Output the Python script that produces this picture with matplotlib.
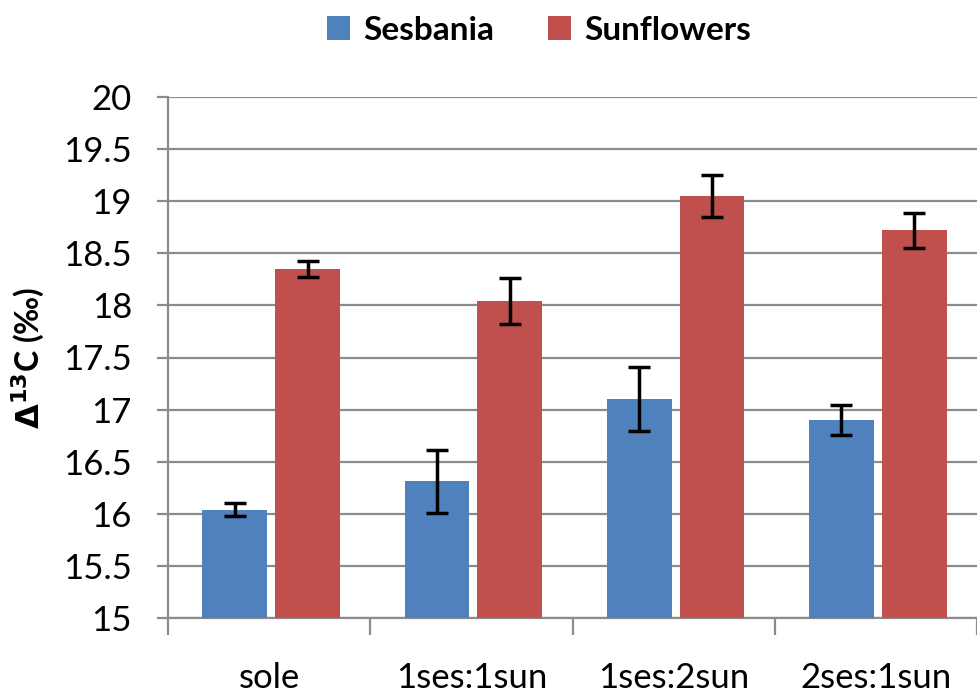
import numpy as np
import matplotlib.pyplot as plt

plt.rcParams['font.family'] = ['Lato', 'DejaVu Sans']

categories = ["sole", "1ses:1sun", "1ses:2sun", "2ses:1sun"]
sesbania = [16.04, 16.31, 17.10, 16.90]
sesbania_err = [0.06, 0.30, 0.31, 0.14]
sunflowers = [18.35, 18.04, 19.05, 18.72]
sunflowers_err = [0.08, 0.22, 0.20, 0.17]

blue = "#4F81BD"
red = "#C0504D"
grey = "#8C8C8C"

fig = plt.figure(figsize=(9.77, 6.95), dpi=100)
ax = fig.add_axes([168 / 977, 1 - 618 / 695, 809 / 977, 521 / 695])

x = np.arange(len(categories))
w = 0.32
err_kw = dict(ecolor="black", elinewidth=2.5, capsize=8, capthick=2.5)
b1 = ax.bar(x - 0.17, sesbania, w, color=blue, yerr=sesbania_err,
            error_kw=err_kw, label="Sesbania", zorder=3)
b2 = ax.bar(x + 0.19, sunflowers, w, color=red, yerr=sunflowers_err,
            error_kw=err_kw, label="Sunflowers", zorder=3)

ax.set_ylim(15, 20)
ax.set_yticks(np.arange(15, 20.01, 0.5))
ax.set_yticklabels(["15", "15.5", "16", "16.5", "17", "17.5", "18", "18.5", "19", "19.5", "20"])
ax.set_xlim(-0.5, 3.466)
ax.yaxis.grid(True, color=grey, linewidth=1.6, zorder=0)
ax.set_axisbelow(True)

# category ticks sit between the groups, labels centred under the groups
ax.set_xticks(np.arange(-0.5, 4, 1.0))
ax.set_xticklabels([])
ax.set_xticks(x, minor=True)
ax.set_xticklabels(categories, minor=True)
ax.tick_params(axis="x", which="minor", length=0, pad=32, labelsize=25)
ax.tick_params(axis="x", which="major", length=12, width=1.6, color=grey)
ax.tick_params(axis="y", length=8, width=1.6, color=grey, labelsize=25, pad=18)

for s in ["top", "right"]:
    ax.spines[s].set_visible(False)
for s in ["left", "bottom"]:
    ax.spines[s].set_color(grey)
    ax.spines[s].set_linewidth(1.6)

ax.set_ylabel(r"$\mathbf{\Delta^{13}}$C (‰)", fontsize=23, fontweight="bold", va="center")
ax.yaxis.set_label_coords(-0.172, 0.5)

leg = fig.legend(handles=[b1, b2], labels=["Sesbania", "Sunflowers"], loc="center",
                 bbox_to_anchor=(0.552, 1 - 30 / 695), ncol=2, frameon=False, handlelength=0.7,
                 handleheight=0.7, handletextpad=0.4, columnspacing=1.6,
                 prop=dict(size=24, weight="bold"))

fig.savefig("out.png", dpi=100)
